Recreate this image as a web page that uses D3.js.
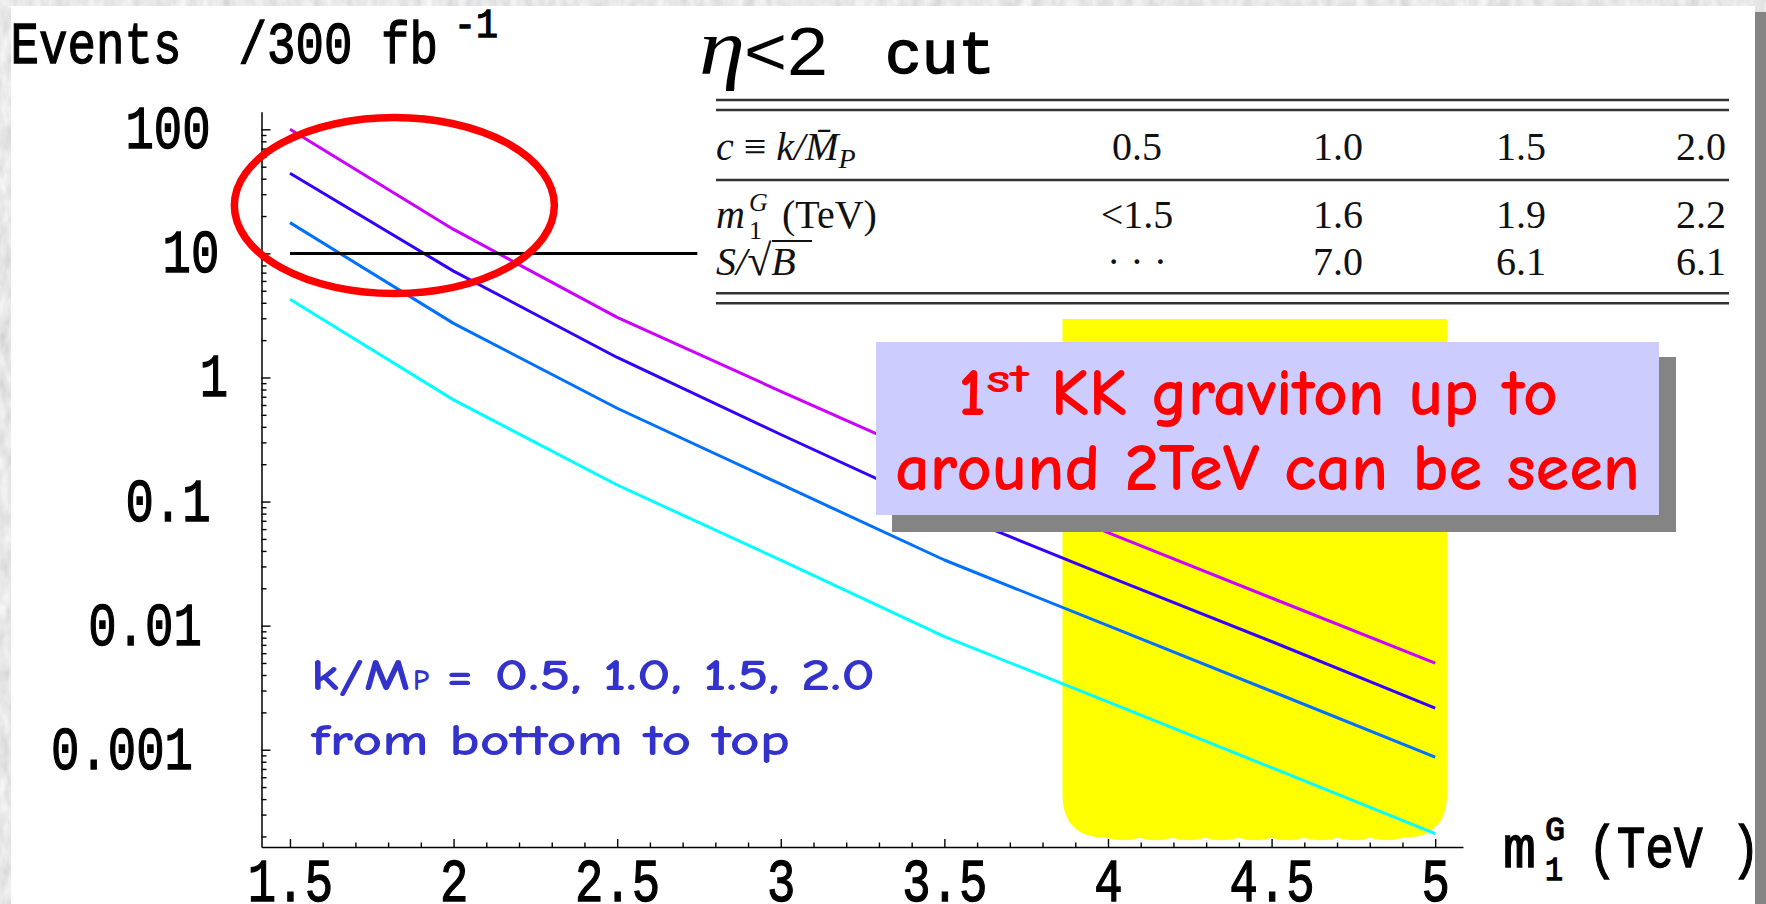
<!DOCTYPE html>
<html>
<head>
<meta charset="utf-8">
<script src="https://cdn.jsdelivr.net/npm/d3@7"></script>
<style>
  html, body { margin: 0; padding: 0; background: #d8d8d8; overflow: hidden; }
  svg { display: block; }
</style>
</head>
<body>
<svg id="chart" width="1766" height="904"></svg>
<script>
// ---- data -------------------------------------------------------------
// graviton mass m1^G (TeV) at which the event yield was computed
const massTeV = [1.5, 2.0, 2.5, 3.0, 3.5, 4.0, 4.5, 5.0];
// coupling values c = k/M_P, bottom to top
const couplings = [0.5, 1.0, 1.5, 2.0];
// events per 300 fb^-1 for each coupling
const eventsC05 = [4.27, 0.66, 0.136, 0.0337, 0.00815, 0.00243, 0.000716, 0.000211];
const eventsC10 = [17.7, 2.73, 0.565, 0.138, 0.0338, 0.0100, 0.00296, 0.000870];
const eventsC15 = [44.2, 7.2, 1.45, 0.347, 0.0857, 0.0249, 0.00745, 0.00216];
const eventsC20 = [100, 15.6, 3.05, 0.774, 0.201, 0.0561, 0.0167, 0.00498];
const seriesColors = ["#00ffff", "#0070ff", "#3300ff", "#cc00ff"];

// 10-event discovery line and its extent in mass
const thresholdEvents = 10;
const thresholdMass = [1.5, 2.745];

// axis ticks
const yMajorTicks = [0.001, 0.01, 0.1, 1, 10, 100];
const yTickLabels = ["0.001", "0.01", "0.1", "1", "10", "100"];
const xMajorTicks = [1.5, 2, 2.5, 3, 3.5, 4, 4.5, 5];
const xTickLabels = ["1.5", "2", "2.5", "3", "3.5", "4", "4.5", "5"];

// highlighted mass window (yellow) and circled low-mass region
const bandMass = [3.861, 5.036];
const bandEvents = [2.96, 0.000195];
const circleCenter = [1.819, 24.3];

// summary table
const tableCoupling = ["0.5", "1.0", "1.5", "2.0"];
const tableMass = ["<1.5", "1.6", "1.9", "2.2"];
const tableSignif = ["\u00b7 \u00b7 \u00b7", "7.0", "6.1", "6.1"];

// ---- setup ------------------------------------------------------------
const svg = d3.select("#chart");
const mono = "'Liberation Mono', 'Courier New', monospace";
const serif = "'Liberation Serif', 'Times New Roman', serif";
const casual = "'Comic Sans MS', 'Comic Neue', 'Lato', 'Noto Sans', sans-serif";

const defs = svg.append("defs");
const marble = defs.append("filter").attr("id", "marble")
  .attr("x", 0).attr("y", 0).attr("width", "100%").attr("height", "100%");
marble.append("feTurbulence").attr("type", "fractalNoise")
  .attr("baseFrequency", "0.09 0.04").attr("numOctaves", 3).attr("seed", 7);
marble.append("feColorMatrix").attr("type", "matrix")
  .attr("values", "0.4 0 0 0 0.6  0.4 0 0 0 0.6  0.4 0 0 0 0.6  0 0 0 0 1");

// slide background, drop shadow and white panel
svg.append("rect").attr("width", 1766).attr("height", 904).attr("filter", "url(#marble)");
svg.append("rect").attr("x", 1755).attr("y", 12).attr("width", 11).attr("height", 892).attr("fill", "#848484");
svg.append("rect").attr("x", 11).attr("y", 6).attr("width", 1744).attr("height", 898).attr("fill", "#ffffff");

// scales
const x = d3.scaleLinear().domain([1.413, 5.085]).range([261.5, 1463]);
const y = d3.scaleLog().domain([Math.pow(10, -3.784), Math.pow(10, 2.142)]).range([847, 111.7]);

// typewriter-style text: regular monospace thickened with a thin outline
const typewriter = sel => sel
  .attr("font-family", mono).attr("font-weight", "normal")
  .attr("fill", "#000").attr("stroke", "#000").attr("stroke-width", 1.3)
  .attr("lengthAdjust", "spacingAndGlyphs");

// ---- yellow mass window ----------------------------------------------
(function drawBand() {
  const x0 = x(bandMass[0]), x1 = x(bandMass[1]);
  const yt = y(bandEvents[0]), yb = y(bandEvents[1]);
  const r = 44;
  const p = d3.path();
  p.moveTo(x0, yt);
  p.lineTo(x1, yt);
  p.lineTo(x1, yb - r);
  p.quadraticCurveTo(x1, yb, x1 - r, yb);
  const n = 9, w = (x1 - x0 - 2 * r) / n;
  for (let i = 0; i < n; i++) {
    const xa = x1 - r - i * w;
    p.quadraticCurveTo(xa - w / 2, yb + 5, xa - w, yb);
  }
  p.quadraticCurveTo(x0, yb, x0, yb - r);
  p.closePath();
  svg.append("path").attr("d", p.toString()).attr("fill", "#ffff00");
})();

// ---- axes -------------------------------------------------------------
const yAllTicks = [];
for (let e = -4; e <= 2; e++) {
  for (let m = 1; m <= 9; m++) {
    const v = m * Math.pow(10, e);
    if (v >= y.domain()[0] && v <= y.domain()[1]) yAllTicks.push(+v.toPrecision(3));
  }
}
const isYMajor = v => yMajorTicks.some(t => Math.abs(t - v) / t < 1e-6);
const yLabel = v => { const i = yMajorTicks.findIndex(t => Math.abs(t - v) / t < 1e-6); return i >= 0 ? yTickLabels[i] : ""; };

const gy = svg.append("g").attr("transform", `translate(${x.range()[0]},0)`)
  .call(d3.axisLeft(y).tickValues(yAllTicks).tickSizeOuter(0).tickFormat(yLabel));
gy.select(".domain").attr("stroke", "#000").attr("stroke-width", 1.5);
gy.selectAll(".tick line").attr("x2", d => isYMajor(d) ? 9 : 5).attr("stroke-width", 1.4);
gy.selectAll(".tick text")
  .call(typewriter).attr("font-size", 61)
  .attr("text-anchor", "middle")
  .attr("x", d => 237 - 23 * yLabel(d).length - x.range()[0])
  .attr("dy", 18.5)
  .attr("textLength", d => 28.4 * yLabel(d).length)
  .filter(d => !isYMajor(d)).remove();

const xAllTicks = d3.range(15, 51).map(v => v / 10);
const isXMajor = v => Math.abs(v * 2 - Math.round(v * 2)) < 1e-6;
const xLabel = v => { const i = xMajorTicks.findIndex(t => Math.abs(t - v) < 1e-6); return i >= 0 ? xTickLabels[i] : ""; };

const gx = svg.append("g").attr("transform", `translate(0,${y.range()[0]})`)
  .call(d3.axisBottom(x).tickValues(xAllTicks).tickSizeOuter(0).tickFormat(xLabel));
gx.select(".domain").attr("stroke", "#000").attr("stroke-width", 1.5);
gx.selectAll(".tick line").attr("y2", d => isXMajor(d) ? -8 : -4.5).attr("stroke-width", 1.4);
gx.selectAll(".tick text")
  .call(typewriter).attr("font-size", 61)
  .attr("y", 53.5).attr("dy", 0)
  .attr("textLength", d => 28.4 * xLabel(d).length)
  .filter(d => !isXMajor(d)).remove();

// ---- curves -----------------------------------------------------------
const allSeries = [eventsC05, eventsC10, eventsC15, eventsC20];
const line = d3.line().x(d => x(d[0])).y(d => y(d[1]));
svg.append("g").selectAll("path")
  .data(allSeries.map((vals, i) => ({ c: couplings[i], pts: massTeV.map((m, j) => [m, vals[j]]) })))
  .join("path")
  .attr("d", d => line(d.pts))
  .attr("fill", "none")
  .attr("stroke", (d, i) => seriesColors[i])
  .attr("stroke-width", 3)
  .attr("stroke-linejoin", "round");

// 10-event line
svg.append("path")
  .attr("d", line(thresholdMass.map(m => [m, thresholdEvents])))
  .attr("stroke", "#000").attr("stroke-width", 3);

// ---- axis titles ------------------------------------------------------
const titleText = (str, xx, yy, len, size) => svg.append("text")
  .attr("x", xx).attr("y", yy).text(str)
  .call(typewriter).attr("font-size", size || 60)
  .attr("textLength", len);
titleText("Events", 10.5, 63, 171);
titleText("/300", 238.5, 63, 114);
titleText("fb", 381, 63, 57);
titleText("-1", 454, 37, 44, 40);

titleText("m", 1503, 867, 33);
titleText("G", 1545, 840, 20, 34);
titleText("1", 1545, 880, 18, 34);
titleText("(TeV )", 1588, 867, 172);

// ---- eta cut title ----------------------------------------------------
svg.append("text").attr("x", 699).attr("y", 74).text("\u03b7")
  .attr("font-family", serif).attr("font-style", "italic").attr("font-size", 80)
  .attr("lengthAdjust", "spacingAndGlyphs").attr("textLength", 46);
svg.append("text").attr("x", 744).attr("y", 75).text("<2")
  .attr("font-family", "'Liberation Sans', Arimo, sans-serif").attr("font-size", 68)
  .attr("lengthAdjust", "spacingAndGlyphs").attr("textLength", 84);
svg.append("text").attr("x", 885).attr("y", 73).text("cut")
  .call(typewriter).attr("font-size", 62).attr("stroke-width", 1.6)
  .attr("textLength", 110);

// ---- summary table ----------------------------------------------------
const table = svg.append("g").attr("font-family", serif).attr("font-size", 40).attr("fill", "#111");
[100, 110, 180, 293.3, 303.3].forEach(yy => {
  table.append("line").attr("x1", 716).attr("x2", 1729).attr("y1", yy).attr("y2", yy)
    .attr("stroke", "#333").attr("stroke-width", 2.6);
});
const colX = [1137, 1338, 1521, 1701];
const rowY = [160, 228, 275];
[tableCoupling, tableMass, tableSignif].forEach((row, r) => {
  table.selectAll(null).data(row).join("text")
    .attr("x", (d, i) => colX[i]).attr("y", rowY[r]).attr("text-anchor", "middle").text(d => d);
});
// row headers
const h1 = table.append("text").attr("x", 716).attr("y", rowY[0]);
h1.append("tspan").attr("font-style", "italic").text("c");
h1.append("tspan").text(" \u2261 ");
h1.append("tspan").attr("font-style", "italic").text("k/M\u0304");
h1.append("tspan").attr("font-style", "italic").attr("font-size", 28).attr("dy", 8).text("P");

table.append("text").attr("x", 716).attr("y", rowY[1]).attr("font-style", "italic").text("m");
table.append("text").attr("x", 749).attr("y", 211).attr("font-style", "italic").attr("font-size", 26).text("G");
table.append("text").attr("x", 749).attr("y", 239).attr("font-size", 26).text("1");
table.append("text").attr("x", 782).attr("y", rowY[1]).text("(TeV)");

const h3 = table.append("text").attr("x", 716).attr("y", rowY[2]);
h3.append("tspan").attr("font-style", "italic").text("S/");
h3.append("tspan").attr("font-size", 44).text("\u221a");
h3.append("tspan").attr("font-style", "italic").text("B");
table.append("line").attr("x1", 772).attr("x2", 812).attr("y1", 241).attr("y2", 241)
  .attr("stroke", "#111").attr("stroke-width", 2);

// ---- red circle around the low-mass region ----------------------------
svg.append("ellipse")
  .attr("cx", x(circleCenter[0])).attr("cy", y(circleCenter[1]))
  .attr("rx", 160).attr("ry", 88)
  .attr("fill", "none").attr("stroke", "#ff0000").attr("stroke-width", 7.5);

// ---- coupling legend --------------------------------------------------
const legend = svg.append("g").attr("font-family", casual).attr("font-weight", "bold")
  .attr("fill", "#3333cc").attr("font-size", 44);
legend.append("text").attr("x", 311).attr("y", 690).text("k/M")
  .attr("lengthAdjust", "spacingAndGlyphs").attr("textLength", 99);
legend.append("text").attr("x", 413).attr("y", 690).attr("font-size", 30).text("P")
  .attr("lengthAdjust", "spacingAndGlyphs").attr("textLength", 16);
legend.append("text").attr("x", 446).attr("y", 690).text("= " + couplings.map(c => c.toFixed(1)).join(", "))
  .attr("lengthAdjust", "spacingAndGlyphs").attr("textLength", 429);
legend.append("text").attr("x", 311).attr("y", 755).text("from bottom to top")
  .attr("lengthAdjust", "spacingAndGlyphs").attr("textLength", 479);

// ---- callout ----------------------------------------------------------
const callout = svg.append("g");
callout.append("rect").attr("x", 892).attr("y", 357).attr("width", 784).attr("height", 175).attr("fill", "#848484");
callout.append("rect").attr("x", 876).attr("y", 342).attr("width", 783).attr("height", 173).attr("fill", "#ccccff");
const ct = callout.append("g").attr("font-family", casual).attr("font-weight", "bold")
  .attr("fill", "#ff0000").attr("font-size", 66);
ct.append("text").attr("x", 958).attr("y", 415).text("1")
  .attr("lengthAdjust", "spacingAndGlyphs").attr("textLength", 28);
ct.append("text").attr("x", 986).attr("y", 392).attr("font-size", 40).text("st")
  .attr("lengthAdjust", "spacingAndGlyphs").attr("textLength", 43);
ct.append("text").attr("x", 1051).attr("y", 415).text("KK graviton up to")
  .attr("lengthAdjust", "spacingAndGlyphs").attr("textLength", 507);
ct.append("text").attr("x", 895).attr("y", 490).text("around 2TeV can be seen")
  .attr("lengthAdjust", "spacingAndGlyphs").attr("textLength", 745);
</script>
</body>
</html>
